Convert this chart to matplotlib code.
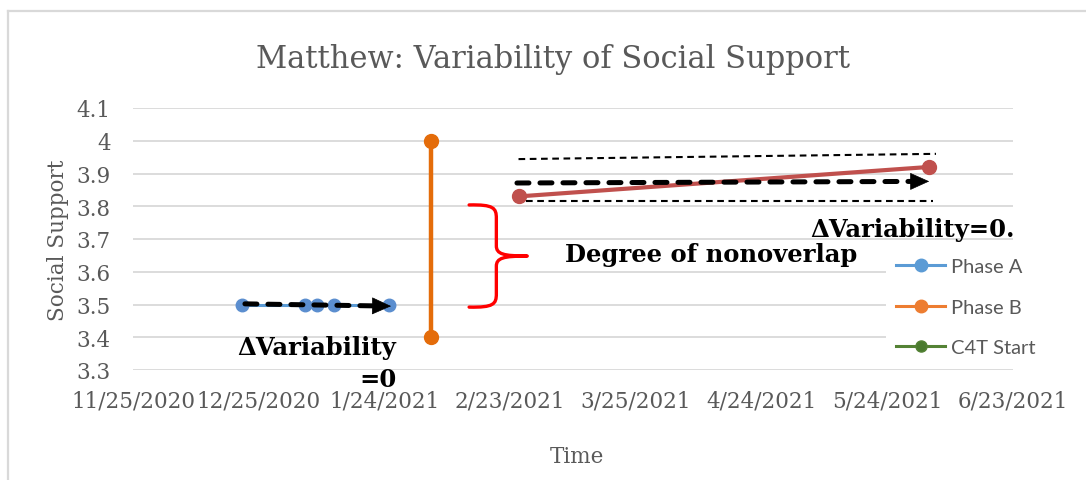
import datetime as dt
import matplotlib
matplotlib.use("Agg")
import matplotlib.pyplot as plt
import matplotlib.dates as mdates
from matplotlib.lines import Line2D
from matplotlib.path import Path
from matplotlib.patches import PathPatch

# ---------------- data ----------------
title = "Matthew: Variability of Social Support"
x_label = "Time"
y_label = "Social Support"

phase_a_dates = ["2020-12-21", "2021-01-05", "2021-01-08", "2021-01-12", "2021-01-25"]
phase_a_values = [3.5, 3.5, 3.5, 3.5, 3.5]

phase_b_dates = ["2021-02-04", "2021-02-04"]
phase_b_values = [3.4, 4.0]

phase_c_dates = ["2021-02-25", "2021-06-03"]
phase_c_values = [3.83, 3.92]

c4t_dates = []
c4t_values = []

x_tick_dates = ["2020-11-25", "2020-12-25", "2021-01-24", "2021-02-23",
                "2021-03-25", "2021-04-24", "2021-05-24", "2021-06-23"]
x_tick_labels = ["11/25/2020", "12/25/2020", "1/24/2021", "2/23/2021",
                 "3/25/2021", "4/24/2021", "5/24/2021", "6/23/2021"]
y_ticks = [3.3, 3.4, 3.5, 3.6, 3.7, 3.8, 3.9, 4.0, 4.1]
y_tick_labels = ["3.3", "3.4", "3.5", "3.6", "3.7", "3.8", "3.9", "4", "4.1"]

legend_labels = ["Phase A", "Phase B", "C4T Start"]

# annotation geometry (data units)
arrow_a = (("2020-12-21 17:00", 3.502), ("2021-01-25 14:00", 3.495))
arrow_c = (("2021-02-24 15:00", 3.871), ("2021-06-03", 3.876))
band_upper = (("2021-02-25", 3.944), ("2021-06-04 15:00", 3.960))
band_lower = (("2021-02-26 19:00", 3.817), ("2021-06-04", 3.817))
brace_x = ("2021-02-13 05:00", "2021-02-19 17:00", "2021-02-27 02:00")  # left, spine, tip
brace_y = (3.804, 3.648, 3.492)  # top, middle, bottom

text_var_a = "ΔVariability\n=0"
text_var_a_pos = ("2021-01-26 19:00", 3.251)
text_var_c = "ΔVariability=0."
text_var_c_pos = ("2021-05-05 15:00", 3.709)
text_overlap = "Degree of nonoverlap"
text_overlap_pos = ("2021-03-08", 3.633)

# ---------------- styling ----------------
GRAY = "#595959"
GRID = "#D9D9D9"
SERIF = "DejaVu Serif"

def d(s):
    return mdates.date2num(dt.datetime.fromisoformat(s))

fig = plt.figure(figsize=(10.86, 4.81), dpi=100)
ax = fig.add_axes([133 / 1086, 1 - 371 / 481, 880 / 1086, 262 / 481])

# frame of the chart area
fig.add_artist(Line2D([8 / 1086, 8 / 1086], [0, 1 - 12 / 481], color=GRID, lw=1.6,
                      transform=fig.transFigure))
fig.add_artist(Line2D([8 / 1086, 1], [1 - 12 / 481, 1 - 12 / 481], color=GRID, lw=1.6,
                      transform=fig.transFigure))

# series
pa_x = [d(s) for s in phase_a_dates]
ax.plot(pa_x, phase_a_values, color="#5B9BD5", lw=2.2, marker="o", ms=9,
        mfc="#5B8ECF", mec="#5B8ECF", zorder=3)
pb_x = [d(s) for s in phase_b_dates]
ax.plot(pb_x, phase_b_values, color="#E46C0A", lw=3.2, marker="o", ms=10,
        mfc="#E46C0A", mec="#E46C0A", zorder=3)
pc_x = [d(s) for s in phase_c_dates]
ax.plot(pc_x, phase_c_values, color="#C0504D", lw=3.0, marker="o", ms=10,
        mfc="#C0504D", mec="#C0504D", zorder=3)
ax.plot([d(s) for s in c4t_dates], c4t_values, color="#548235", lw=2.2, marker="o")

# thick dashed arrows
def dashed_arrow(p0, p1):
    x0, y0 = d(p0[0]), p0[1]
    x1, y1 = d(p1[0]), p1[1]
    frac = 0.96 if (x1 - x0) > 60 else 0.9
    xm = x0 + (x1 - x0) * frac
    ym = y0 + (y1 - y0) * frac
    ax.plot([x0, xm], [y0, ym], color="black", lw=3.6, ls=(0, (2.4, 2.2)),
            dash_capstyle="round", solid_capstyle="round", zorder=5)
    ax.annotate("", xy=(x1, y1), xytext=(xm - (x1 - x0) * 0.01, ym),
                arrowprops=dict(arrowstyle="-|>,head_length=0.8,head_width=0.36",
                                color="black", lw=0.5, mutation_scale=16,
                                shrinkA=0, shrinkB=0), zorder=6)

dashed_arrow(*arrow_a)
dashed_arrow(*arrow_c)

for (p0, p1) in (band_upper, band_lower):
    ax.plot([d(p0[0]), d(p1[0])], [p0[1], p1[1]], color="black", lw=1.5,
            ls=(0, (3.2, 2.2)), zorder=4)

# red curly brace
xl, xs, xt = [d(s) for s in brace_x]
yt, ym, yb = brace_y
dx = xs - xl
dy = (yt - yb)
verts = [
    (xl, yt), (xl + dx * 0.9, yt + dy * 0.005), (xs, yt - dy * 0.03), (xs, yt - dy * 0.13),
    (xs, ym + dy * 0.1),
    (xs, ym + dy * 0.02), (xs + dx * 0.25, ym), (xt, ym),
    (xs + dx * 0.25, ym), (xs, ym - dy * 0.02), (xs, ym - dy * 0.1),
    (xs, yb + dy * 0.13),
    (xs, yb + dy * 0.03), (xl + dx * 0.9, yb - dy * 0.005), (xl, yb),
]
codes = [Path.MOVETO, Path.CURVE4, Path.CURVE4, Path.CURVE4,
         Path.LINETO,
         Path.CURVE4, Path.CURVE4, Path.CURVE4,
         Path.CURVE4, Path.CURVE4, Path.CURVE4,
         Path.LINETO,
         Path.CURVE4, Path.CURVE4, Path.CURVE4]
ax.add_patch(PathPatch(Path(verts, codes), facecolor="none", edgecolor="#FF0000",
                       lw=2.4, zorder=4, capstyle="round", joinstyle="round"))

# texts
bold = dict(family=SERIF, weight="bold", color="black", fontsize=17.5)
ax.text(d(text_var_a_pos[0]), text_var_a_pos[1], text_var_a, ha="right",
        va="baseline", multialignment="right", linespacing=1.4, zorder=7, **bold)
ax.text(d(text_var_c_pos[0]), text_var_c_pos[1], text_var_c, ha="left",
        va="baseline", zorder=7, **bold)
ax.text(d(text_overlap_pos[0]), text_overlap_pos[1], text_overlap, ha="left",
        va="baseline", zorder=7, **bold)

# axes formatting
ax.set_xlim(d(x_tick_dates[0]), d(x_tick_dates[-1]))
ax.set_ylim(y_ticks[0], y_ticks[-1])
ax.set_xticks([d(s) for s in x_tick_dates])
ax.set_xticklabels(x_tick_labels)
ax.set_yticks(y_ticks)
ax.set_yticklabels(y_tick_labels)
ax.tick_params(axis="both", length=0, labelsize=15.5, labelcolor=GRAY)
ax.tick_params(axis="x", pad=14)
ax.tick_params(axis="y", pad=16)
for lab in ax.get_xticklabels() + ax.get_yticklabels():
    lab.set_family(SERIF)
for sp in ax.spines.values():
    sp.set_visible(False)
ax.grid(axis="y", color=GRID, lw=1.3)
ax.set_axisbelow(True)

ax.set_xlabel(x_label, family=SERIF, fontsize=15.5, color=GRAY)
ax.set_ylabel(y_label, family=SERIF, fontsize=15.5, color=GRAY)
ax.xaxis.set_label_coords(0.505, -0.328)
ax.xaxis.label.set_va("center")
ax.yaxis.set_label_coords(-0.085, 0.5)
ax.yaxis.label.set_va("center")

fig.text(553 / 1086, 1 - 68 / 481, title, ha="center", va="baseline",
         family=SERIF, fontsize=22, color=GRAY)

# legend
handles = [
    Line2D([], [], color="#5B9BD5", lw=2.2, marker="o", ms=9),
    Line2D([], [], color="#ED7D31", lw=2.2, marker="o", ms=9),
    Line2D([], [], color="#548235", lw=2.2, marker="o", ms=8, mfc="#4A7A2E"),
]
leg = ax.legend(handles, legend_labels, loc="upper left",
                bbox_to_anchor=(886 / 1086, 1 - 249 / 481),
                bbox_transform=fig.transFigure, frameon=True, fancybox=False,
                edgecolor="none", facecolor="white", framealpha=1,
                prop=dict(family="Lato", size=14.5), labelcolor=GRAY,
                handlelength=2.45, handletextpad=0.3, labelspacing=1.17,
                borderpad=0.5, borderaxespad=0)
leg.set_zorder(2.5)

fig.savefig("out.png", dpi=100)
